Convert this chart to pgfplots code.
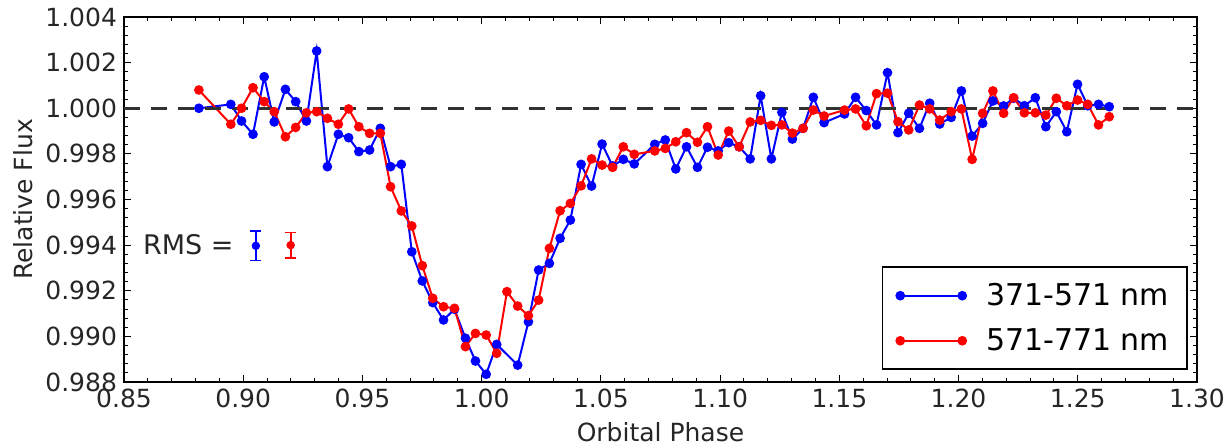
\documentclass[border=0pt]{standalone}
\usepackage{fontspec}
\setmainfont{DejaVu Sans}
\usepackage{pgfplots}
\pgfplotsset{compat=1.18}
\usepackage{pgfplotstable}

\definecolor{cblue}{RGB}{0,0,255}
\definecolor{cred}{RGB}{255,0,0}
\definecolor{cdash}{RGB}{50,50,50}

\pgfplotstableread{
x y
0.8814 1.00000
0.8948 1.00017
0.8993 0.99944
0.9041 0.99886
0.9088 1.00138
0.9130 0.99940
0.9177 1.00083
0.9220 1.00029
0.9265 0.99944
0.9308 1.00251
0.9353 0.99744
0.9399 0.99886
0.9442 0.99871
0.9485 0.99810
0.9530 0.99817
0.9575 0.99912
0.9618 0.99744
0.9663 0.99754
0.9707 0.99371
0.9751 0.99243
0.9795 0.99148
0.9840 0.99072
0.9886 0.99119
0.9932 0.98992
0.9974 0.98892
1.0019 0.98834
1.0063 0.98965
1.0151 0.98874
1.0196 0.99064
1.0239 0.99291
1.0284 0.99320
1.0329 0.99430
1.0372 0.99510
1.0417 0.99754
1.0461 0.99659
1.0505 0.99843
1.0549 0.99747
1.0594 0.99776
1.0640 0.99756
1.0726 0.99842
1.0770 0.99861
1.0814 0.99734
1.0859 0.99831
1.0905 0.99741
1.0947 0.99829
1.0992 0.99813
1.1036 0.99849
1.1080 0.99831
1.1126 0.99778
1.1170 1.00055
1.1215 0.99778
1.1259 0.99982
1.1303 0.99865
1.1348 0.99912
1.1391 1.00048
1.1436 0.99937
1.1522 0.99975
1.1568 1.00048
1.1613 0.99990
1.1656 0.99927
1.1702 1.00156
1.1746 0.99893
1.1791 0.99978
1.1836 0.99912
1.1879 1.00022
1.1921 0.99931
1.1969 0.99960
1.2012 1.00076
1.2057 0.99878
1.2101 0.99934
1.2144 1.00032
1.2189 1.00010
1.2231 1.00044
1.2276 1.00011
1.2322 1.00046
1.2366 0.99919
1.2410 0.99985
1.2454 0.99897
1.2499 1.00105
1.2542 1.00011
1.2587 1.00017
1.2632 1.00007
}\bluedata

\pgfplotstableread{
x y
0.8814 1.00080
0.8948 0.99930
0.8993 1.00000
0.9041 1.00090
0.9088 1.00029
0.9130 0.99985
0.9177 0.99875
0.9220 0.99916
0.9265 0.99980
0.9308 0.99985
0.9353 0.99956
0.9399 0.99930
0.9442 0.99997
0.9485 0.99919
0.9530 0.99890
0.9575 0.99890
0.9618 0.99656
0.9663 0.99550
0.9707 0.99484
0.9751 0.99310
0.9795 0.99167
0.9840 0.99130
0.9886 0.99123
0.9932 0.98955
0.9974 0.99013
1.0019 0.99006
1.0063 0.98926
1.0106 0.99196
1.0151 0.99133
1.0196 0.99091
1.0239 0.99159
1.0284 0.99386
1.0329 0.99551
1.0372 0.99583
1.0417 0.99660
1.0461 0.99778
1.0505 0.99751
1.0549 0.99741
1.0594 0.99831
1.0640 0.99798
1.0726 0.99813
1.0770 0.99824
1.0814 0.99853
1.0859 0.99893
1.0905 0.99851
1.0947 0.99919
1.0992 0.99795
1.1036 0.99900
1.1080 0.99831
1.1126 0.99940
1.1170 0.99947
1.1215 0.99925
1.1259 0.99927
1.1303 0.99891
1.1348 0.99912
1.1391 0.99992
1.1436 0.99966
1.1522 0.99992
1.1568 0.99997
1.1613 0.99923
1.1656 1.00064
1.1702 1.00066
1.1746 0.99941
1.1791 0.99905
1.1836 1.00014
1.1879 0.99997
1.1921 0.99948
1.1969 0.99985
1.2012 0.99997
1.2057 0.99776
1.2101 0.99978
1.2144 1.00076
1.2189 0.99978
1.2231 1.00046
1.2276 0.99980
1.2322 0.99980
1.2366 0.99970
1.2410 1.00044
1.2454 1.00011
1.2499 1.00036
1.2542 1.00017
1.2587 0.99927
1.2632 0.99963
}\reddata

\begin{document}
\begin{tikzpicture}
\begin{axis}[
  scale only axis,
  width=536.5pt, height=182.5pt,
  xmin=0.85, xmax=1.30, ymin=0.988, ymax=1.004,
  xtick={0.85,0.90,0.95,1.00,1.05,1.10,1.15,1.20,1.25,1.30},
  ytick={0.988,0.990,0.992,0.994,0.996,0.998,1.000,1.002,1.004},
  minor x tick num=4,
  minor y tick num=4,
  tick align=inside,
  major tick length=3.5pt,
  minor tick length=2pt,
  every tick/.style={black, line width=0.5pt},
  axis line style={line width=1pt},
  /pgf/number format/assume math mode=true,
  xticklabel style={/pgf/number format/.cd, fixed, fixed zerofill, precision=2},
  yticklabel style={/pgf/number format/.cd, fixed, fixed zerofill, precision=3},
  scaled ticks=false,
  tick label style={font=\fontsize{12.5}{15}\selectfont, black!85},
  label style={font=\fontsize{12.5}{15}\selectfont, black!85},
  xlabel={Orbital Phase},
  ylabel={Relative Flux},
  xlabel style={at={([yshift=-25pt]axis description cs:0.5,0)}, anchor=center},
  ylabel style={at={([xshift=-50.5pt]axis description cs:0,0.5)}, anchor=center},
  legend style={at={(rel axis cs:0.9916,0.0329)}, anchor=south east, draw=black, line width=0.8pt,
    font=\fontsize{15}{18}\selectfont, inner xsep=7pt, inner ysep=6pt, row sep=6pt,
    nodes={inner sep=2pt},
    /tikz/every odd column/.append style={column sep=8pt}},
  legend cell align=left,
  legend image code/.code={\draw[#1] plot coordinates {(0pt,0pt) (31pt,0pt)};},
]
\addplot[cblue, line width=1pt, mark=*, mark size=1.9pt, mark options={solid, fill=cblue, draw=cblue}] table[x=x,y=y] {\bluedata};
\addlegendentry{371-571 nm}
\addplot[cred, line width=1pt, mark=*, mark size=1.9pt, mark options={solid, fill=cred, draw=cred}] table[x=x,y=y] {\reddata};
\addlegendentry{571-771 nm}
\addplot[forget plot, cdash, line width=1.5pt, dash pattern=on 8pt off 5.5pt] coordinates {(0.85,1.0) (1.30,1.0)};
\addplot[forget plot, cblue, only marks, mark=*, mark size=1.9pt,
  error bars/.cd, y dir=both, y explicit, error mark=|,
  error bar style={line width=0.9pt, cblue},
  error mark options={cblue, mark size=2.75pt, line width=0.9pt}]
  coordinates {(0.9053,0.99397) +- (0,0.00064)};
\addplot[forget plot, cred, only marks, mark=*, mark size=1.9pt,
  error bars/.cd, y dir=both, y explicit, error mark=|,
  error bar style={line width=0.9pt, cred},
  error mark options={cred, mark size=2.75pt, line width=0.9pt}]
  coordinates {(0.9199,0.99400) +- (0,0.00055)};
\node[anchor=east, inner sep=0pt, font=\fontsize{13.5}{16}\selectfont, black!85] at (axis cs:0.8961,0.99400) {RMS =};
\coordinate (bl) at (rel axis cs:0,0);
\coordinate (tr) at (rel axis cs:1,1);
\end{axis}
\pgfresetboundingbox
\path[use as bounding box] ([xshift=-62pt,yshift=-32pt]bl) rectangle ([xshift=16.5pt,yshift=8.5pt]tr);
\end{tikzpicture}
\end{document}
